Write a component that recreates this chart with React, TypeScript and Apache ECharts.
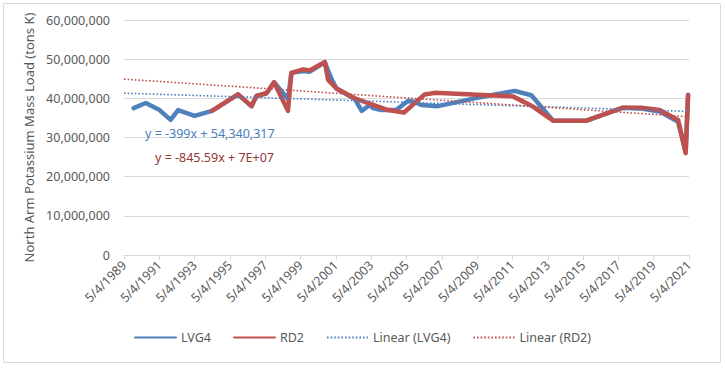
import React, { useEffect, useRef } from "react";
import * as echarts from "echarts";

// ---- data ----
const lvg4Dates = [
  "1989-11-20", "1990-07-27", "1991-05-10", "1991-12-24", "1992-05-27", "1993-05-04",
  "1994-04-27", "1995-10-19", "1996-07-23", "1996-11-03", "1997-05-30", "1997-11-03",
  "1998-08-18", "1998-10-27", "1999-06-24", "1999-11-10", "2000-09-17", "2001-02-01",
  "2001-05-16", "2002-06-01", "2002-10-20", "2003-04-05", "2003-06-10", "2003-12-01",
  "2004-10-01", "2005-06-03", "2005-10-19", "2006-03-08", "2007-02-14", "2009-03-15",
  "2011-06-20", "2012-05-30", "2013-08-22", "2015-07-13", "2017-08-08", "2018-08-22",
  "2019-09-06", "2020-09-20", "2021-02-24", "2021-04-15",
];
const lvg4Values = [
  37500000, 38800000, 37000000, 34500000, 37000000, 35500000,
  36800000, 41000000, 38000000, 40600000, 41300000, 44100000,
  39800000, 46500000, 47000000, 46800000, 49200000, 45000000,
  42500000, 39800000, 36800000, 38300000, 37500000, 37000000,
  37000000, 39300000, 39100000, 38300000, 38000000, 40000000,
  41900000, 40800000, 34300000, 34300000, 37600000, 37400000,
  36600000, 34000000, 26500000, 40900000,
];

const rd2Dates = [
  "1994-04-27", "1995-10-19", "1996-07-23", "1996-11-03", "1997-05-30", "1997-11-03",
  "1998-08-17", "1998-10-27", "1999-06-24", "1999-11-10", "2000-09-17", "2000-11-24",
  "2001-05-16", "2002-06-01", "2004-04-16", "2005-03-15", "2006-05-15", "2006-12-10",
  "2011-05-15", "2012-07-01", "2013-08-22", "2015-07-13", "2017-08-08", "2018-08-22",
  "2019-09-06", "2020-09-20", "2021-02-24", "2021-04-15",
];
const rd2Values = [
  36800000, 41000000, 38000000, 40600000, 41300000, 44100000,
  36800000, 46500000, 47400000, 47100000, 49300000, 44700000,
  42500000, 40000000, 37000000, 36400000, 41000000, 41400000,
  40500000, 37900000, 34300000, 34300000, 37600000, 37600000,
  37000000, 34500000, 26000000, 40800000,
];

const trendDates = ["1989-05-04", "2021-05-04"];
const lvg4Trend = [41320149, 36656637];
const rd2Trend = [44900000, 35300000];

const axisStart = "1989-05-04";
const tickYears = 2;
const axisSpanYears = 32;
const yMax = 60000000;
const yStep = 10000000;

const seriesNames = ["LVG4", "RD2", "Linear (LVG4)", "Linear (RD2)"];
const equations = ["y = -399x + 54,340,317", "y = -845.59x + 7E+07"];

// years elapsed since the axis start date
const toX = (d: string) =>
  (Date.parse(d) - Date.parse(axisStart)) / (365.25 * 86400000);
const pairs = (dates: string[], vals: number[]) =>
  dates.map((d, i) => [toX(d), vals[i]]);

const FONT = "'Noto Sans', 'Open Sans', sans-serif";
const GREY = "#595959";
const BLUE = "#4f81bd";
const RED = "#c0504d";

export default function App() {
  const ref = useRef<HTMLDivElement>(null);
  useEffect(() => {
    if (!ref.current) return;
    const chart = echarts.init(ref.current, undefined, { renderer: "svg" });
    chart.setOption({
      animation: false,
      backgroundColor: "#ffffff",
      textStyle: { fontFamily: FONT },
      grid: { left: 124, right: 36, top: 20, bottom: 113, containLabel: false },
      xAxis: {
        type: "value",
        min: 0,
        max: axisSpanYears,
        interval: tickYears,
        axisLine: { show: true, lineStyle: { color: "#d9d9d9", width: 1 } },
        axisTick: { show: true, length: 5, lineStyle: { color: "#d9d9d9" } },
        splitLine: { show: false },
        axisLabel: {
          rotate: 45,
          margin: 8,
          color: GREY,
          fontSize: 12.5,
          fontFamily: FONT,
          formatter: (v: number) => `5/4/${1989 + Math.round(v)}`,
        },
      },
      yAxis: {
        type: "value",
        min: 0,
        max: yMax,
        interval: yStep,
        name: "North Arm Potassium Mass Load (tons K)",
        nameLocation: "middle",
        nameGap: 86,
        nameRotate: 90,
        nameTextStyle: { color: GREY, fontSize: 13, fontFamily: FONT },
        axisLine: { show: false },
        axisTick: { show: false },
        splitLine: { lineStyle: { color: "#d9d9d9", width: 1 } },
        axisLabel: {
          margin: 14,
          color: GREY,
          fontSize: 12.5,
          fontFamily: FONT,
          formatter: (v: number) => v.toLocaleString("en-US"),
        },
      },
      legend: {
        bottom: 19,
        left: "center",
        itemWidth: 41,
        itemHeight: 8,
        itemGap: 22,
        itemStyle: { opacity: 0, borderWidth: 0 },
        textStyle: { color: GREY, fontSize: 12.5, fontFamily: FONT },
        data: seriesNames,
      },
      series: [
        {
          name: seriesNames[0],
          type: "line",
          data: pairs(lvg4Dates, lvg4Values),
          symbol: "none",
          lineStyle: { color: BLUE, width: 4.5, join: "round", cap: "round" },
          itemStyle: { color: BLUE },
          z: 2,
        },
        {
          name: seriesNames[1],
          type: "line",
          data: pairs(rd2Dates, rd2Values),
          symbol: "none",
          lineStyle: { color: RED, width: 4.5, join: "round", cap: "round" },
          itemStyle: { color: RED },
          z: 3,
        },
        {
          name: seriesNames[2],
          type: "line",
          data: pairs(trendDates, lvg4Trend),
          symbol: "none",
          lineStyle: { color: BLUE, width: 1.6, type: [1.6, 2] },
          itemStyle: { color: BLUE },
          z: 4,
        },
        {
          name: seriesNames[3],
          type: "line",
          data: pairs(trendDates, rd2Trend),
          symbol: "none",
          lineStyle: { color: RED, width: 1.6, type: [1.6, 2] },
          itemStyle: { color: RED },
          z: 4,
        },
      ],
      graphic: [
        {
          type: "rect",
          silent: true,
          shape: { x: 3.5, y: 3.5, width: 717, height: 359 },
          style: { fill: "none", stroke: "#d9d9d9", lineWidth: 1 },
          z: -1,
        },
        {
          type: "text",
          x: 145,
          y: 133,
          style: {
            text: equations[0],
            fill: "#4a7ebb",
            font: `12.5px ${FONT}`,
            textVerticalAlign: "middle",
            verticalAlign: "middle",
          },
          z: 10,
        },
        {
          type: "text",
          x: 155,
          y: 157,
          style: {
            text: equations[1],
            fill: "#953735",
            font: `12.5px ${FONT}`,
            textVerticalAlign: "middle",
            verticalAlign: "middle",
          },
          z: 10,
        },
      ],
    });
    return () => chart.dispose();
  }, []);
  return (
    <div
      ref={ref}
      style={{ position: "absolute", left: 0, top: 0, width: 725, height: 368, background: "#fff" }}
    />
  );
}
